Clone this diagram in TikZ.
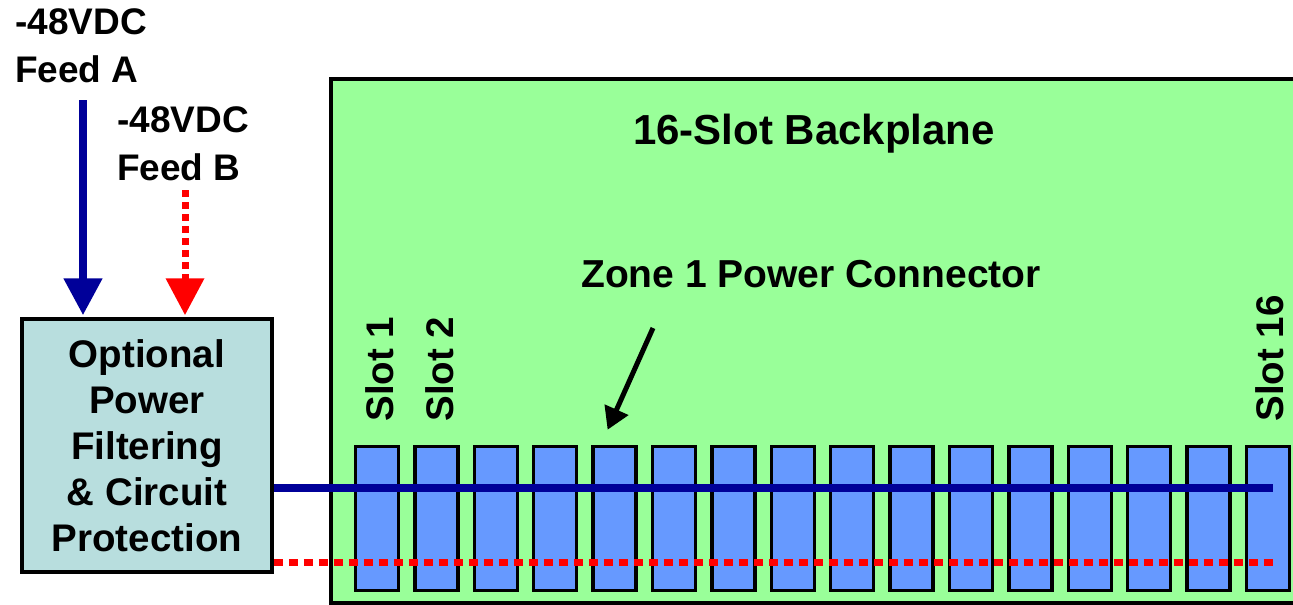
\documentclass[tikz,border=0pt]{standalone}
\usepackage{fontspec}
\setmainfont{Liberation Sans}
\usetikzlibrary{arrows.meta,calc}
\definecolor{bpgreen}{RGB}{153,255,153}
\definecolor{boxblue}{RGB}{184,222,222}
\definecolor{slotblue}{RGB}{102,153,255}
\definecolor{navy}{RGB}{0,0,153}
\definecolor{feedred}{RGB}{255,0,0}
\tikzset{
  lbl/.style={font=\fontsize{37}{48}\selectfont\bfseries, inner sep=0pt},
  slotbox/.style={draw=black, line width=3.5pt, fill=slotblue, minimum width=43pt, minimum height=144pt, inner sep=0pt},
  slotlbl/.style={inner sep=0pt, font=\fontsize{38.5}{46}\selectfont\bfseries, rotate=90, anchor=base west},
  feedA/.style={draw=navy, line width=8pt, -{Triangle[width=37pt,length=37pt]}},
  feedB/.style={draw=feedred, line width=7pt, dash pattern=on 7pt off 5pt, -{Triangle[width=37pt,length=37pt]}},
  busA/.style={draw=navy, line width=8.5pt},
  busB/.style={draw=feedred, line width=7pt, dash pattern=on 9pt off 6pt},
}
\begin{document}
\begin{tikzpicture}[x=1pt,y=-1pt]
\useasboundingbox (0,0) rectangle (1293,605);
\fill[white] (0,0) rectangle (1293,605);
% backplane
\fill[bpgreen] (331,79) rectangle (1293,603);
\draw[line width=4pt] (1293,79) -- (331,79) -- (331,603) -- (1293,603);
\node[inner sep=0pt, font=\fontsize{42}{50}\selectfont\bfseries, anchor=base] (title) at (814,144) {16-Slot Backplane};
\node[inner sep=0pt, font=\fontsize{39}{47}\selectfont\bfseries, anchor=base] (zone) at (811,287) {Zone 1 Power Connector};
% slots
\foreach \i in {1,...,16} {
  \node[slotbox] (s\i) at ({377+59.4*(\i-1)},518.5) {};
}
\node[slotlbl] (l1) at ($(s1.north)+(16,-23)$) {Slot 1};
\node[slotlbl] (l2) at ($(s2.north)+(17,-23)$) {Slot 2};
\node[slotlbl] (l16) at ($(s16.north)+(15,-23)$) {Slot 16};
% filter box
\node[draw=black, line width=3.5pt, fill=boxblue, minimum width=250pt, minimum height=253pt, inner sep=0pt, align=center,
      font=\fontsize{38.5}{46}\selectfont\bfseries] (filt) at (147,445.5)
  {Optional\\Power\\Filtering\\\& Circuit\\Protection};
% feeds
\node[lbl, anchor=north west, align=left] (fa) at (15,8.5) {-48VDC\\Feed A};
\node[lbl, anchor=north west, align=left] (fb) at (117,106.5) {-48VDC\\Feed B};
\coordinate (faS) at (83,100);
\coordinate (fbS) at (185,190);
\draw[feedA] (faS) -- ($(faS |- filt.north)+(0,-2)$);
\draw[feedB] (fbS) -- ($(fbS |- filt.north)+(0,-2)$);
% buses
\coordinate (busAend) at (1273,488);
\coordinate (busBend) at (1273,562);
\draw[busA] (filt.east |- busAend) -- (busAend);
\draw[busB] (filt.east |- busBend) -- (busBend);
% zone arrow
\coordinate (zA) at (653,328);
\draw[line width=5pt, -{Triangle[width=25pt,length=22pt]}] (zA) -- ($(s5.north)+(-7,-15)$);
\end{tikzpicture}
\end{document}
